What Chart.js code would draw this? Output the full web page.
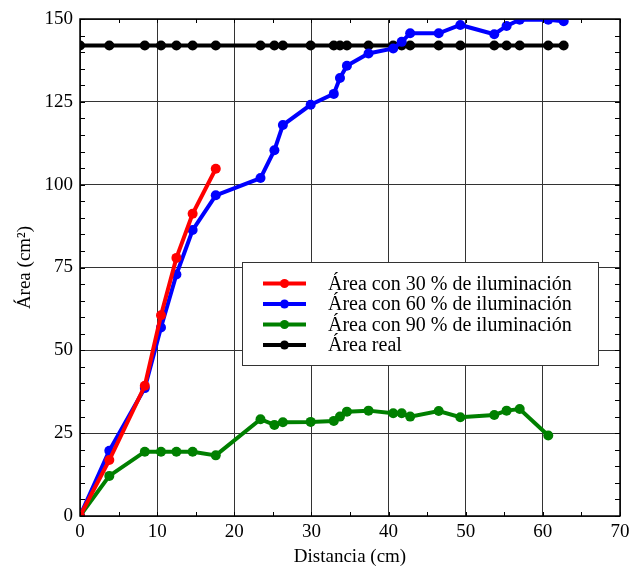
<!DOCTYPE html>
<html>
<head>
<meta charset="utf-8">
<script src="https://cdn.jsdelivr.net/npm/chart.js@4/dist/chart.umd.min.js"></script>
<style>
    html, body { margin: 0; padding: 0; background: #fff; }
    #grafico { display: block; }
</style>
</head>
<body>
<canvas id="grafico" width="631" height="568"></canvas>
<script>
// Distancias de medición (cm)
const distancia = [0, 3.8, 8.4, 10.5, 12.5, 14.6, 17.6, 23.4, 25.2, 26.3, 29.9, 32.9, 33.7,
    34.6, 37.4, 40.6, 41.7, 42.8, 46.5, 49.3, 53.7, 55.3, 57.0, 60.7, 62.7];

// Áreas medidas (cm²)
const area30 = [0, 16.9, 39.3, 60.6, 77.9, 91.2, 104.8];
const area60 = [0, 19.7, 38.6, 56.9, 72.9, 86.3, 96.8, 102.0, 110.4, 118.0, 124.1, 127.4, 132.2,
    135.9, 139.6, 141.1, 143.1, 145.7, 145.7, 148.2, 145.4, 147.9, 149.8, 149.8, 149.3];
const area90 = [0, 12.1, 19.4, 19.4, 19.4, 19.4, 18.3, 29.2, 27.5, 28.3, 28.4, 28.7, 30.0,
    31.5, 31.8, 31.0, 31.0, 30.0, 31.7, 29.8, 30.5, 31.8, 32.3, 24.3];
const areaReal = [142, 142, 142, 142, 142, 142, 142, 142, 142, 142, 142, 142, 142,
    142, 142, 142, 142, 142, 142, 142, 142, 142, 142, 142, 142];

const etiquetas = [
    'Área con 30 % de iluminación',
    'Área con 60 % de iluminación',
    'Área con 90 % de iluminación',
    'Área real'
];
const colores = ['#ff0000', '#0000ff', '#008000', '#000000'];

const fuente = 'Liberation Serif, Times New Roman, serif';

function puntos(valores) {
    return valores.map((v, i) => ({ x: distancia[i], y: v }));
}

function serie(i, valores) {
    return {
        label: etiquetas[i],
        data: puntos(valores),
        borderColor: colores[i],
        backgroundColor: colores[i],
        borderWidth: 4,
        pointRadius: 5,
        pointBorderWidth: 0,
        pointHoverRadius: 5,
        tension: 0,
        clip: 0
    };
}

// marco, marcas interiores y leyenda
const marcoPlugin = {
    id: 'marco',
    afterDatasetsDraw(chart) {
        const { ctx, chartArea: a, scales } = chart;
        ctx.save();
        ctx.strokeStyle = '#000';
        ctx.lineWidth = 1;
        ctx.beginPath();
        for (let v = 0; v <= 70; v += 5) {
            const px = Math.round(scales.x.getPixelForValue(v)) + 0.5;
            ctx.moveTo(px, a.bottom); ctx.lineTo(px, a.bottom - 4);
            ctx.moveTo(px, a.top); ctx.lineTo(px, a.top + 4);
        }
        for (let v = 0; v <= 150; v += 5) {
            const py = Math.round(scales.y.getPixelForValue(v)) + 0.5;
            ctx.moveTo(a.left, py); ctx.lineTo(a.left + 5, py);
            ctx.moveTo(a.right, py); ctx.lineTo(a.right - 5, py);
        }
        ctx.stroke();
        ctx.lineWidth = 1.5;
        ctx.strokeRect(a.left, a.top, a.right - a.left, a.bottom - a.top);
        ctx.restore();
    },
    afterDraw(chart) {
        const { ctx } = chart;
        ctx.save();
        ctx.fillStyle = '#fff';
        ctx.fillRect(242, 262, 356, 103);
        ctx.strokeStyle = '#333';
        ctx.lineWidth = 1;
        ctx.strokeRect(242.5, 262.5, 356, 103);
        ctx.font = '20px ' + fuente;
        ctx.textBaseline = 'middle';
        chart.data.datasets.forEach((ds, i) => {
            const y = 283.5 + i * 20.5;
            ctx.strokeStyle = ds.borderColor;
            ctx.lineWidth = 4;
            ctx.beginPath();
            ctx.moveTo(263, y);
            ctx.lineTo(306, y);
            ctx.stroke();
            ctx.fillStyle = ds.borderColor;
            ctx.beginPath();
            ctx.arc(284.5, y, 4.5, 0, Math.PI * 2);
            ctx.fill();
            ctx.fillStyle = '#000';
            ctx.fillText(ds.label, 328, y + 1);
        });
        ctx.restore();
    }
};

new Chart(document.getElementById('grafico'), {
    type: 'line',
    data: {
        datasets: [
            serie(0, area30),
            serie(1, area60),
            serie(2, area90),
            serie(3, areaReal)
        ]
    },
    options: {
        responsive: false,
        animation: false,
        events: [],
        layout: { padding: { top: 19, right: 11, left: 0, bottom: 0 } },
        plugins: {
            legend: { display: false },
            tooltip: { enabled: false }
        },
        scales: {
            x: {
                type: 'linear',
                min: 0,
                max: 70,
                afterFit(scale) {
                    scale.height = 52;
                    scale.paddingLeft = 0;
                    scale.paddingRight = 0;
                },
                border: { display: false },
                grid: {
                    drawTicks: false,
                    color: ctx => (ctx.tick && ctx.tick.value % 10 === 0) ? '#333' : 'rgba(0,0,0,0)',
                    lineWidth: 1
                },
                ticks: {
                    stepSize: 5,
                    padding: 5,
                    maxRotation: 0,
                    autoSkip: false,
                    color: '#000',
                    font: { family: fuente, size: 19 },
                    callback: v => (v % 10 === 0 ? v : '')
                },
                title: {
                    display: true,
                    text: 'Distancia (cm)',
                    color: '#000',
                    font: { family: fuente, size: 19 },
                    padding: { top: 0, bottom: 0 }
                }
            },
            y: {
                min: 0,
                max: 150,
                afterFit(scale) { scale.width = 80; },
                border: { display: false },
                grid: {
                    drawTicks: false,
                    color: ctx => (ctx.tick && ctx.tick.value % 25 === 0) ? '#333' : 'rgba(0,0,0,0)',
                    lineWidth: 1
                },
                ticks: {
                    stepSize: 5,
                    padding: 7,
                    autoSkip: false,
                    color: '#000',
                    font: { family: fuente, size: 19 },
                    callback: v => (v % 25 === 0 ? v : '')
                },
                title: {
                    display: true,
                    text: 'Área (cm²)',
                    color: '#000',
                    font: { family: fuente, size: 19 },
                    padding: { top: 14, bottom: 0 }
                }
            }
        }
    },
    plugins: [marcoPlugin]
});
</script>
</body>
</html>
